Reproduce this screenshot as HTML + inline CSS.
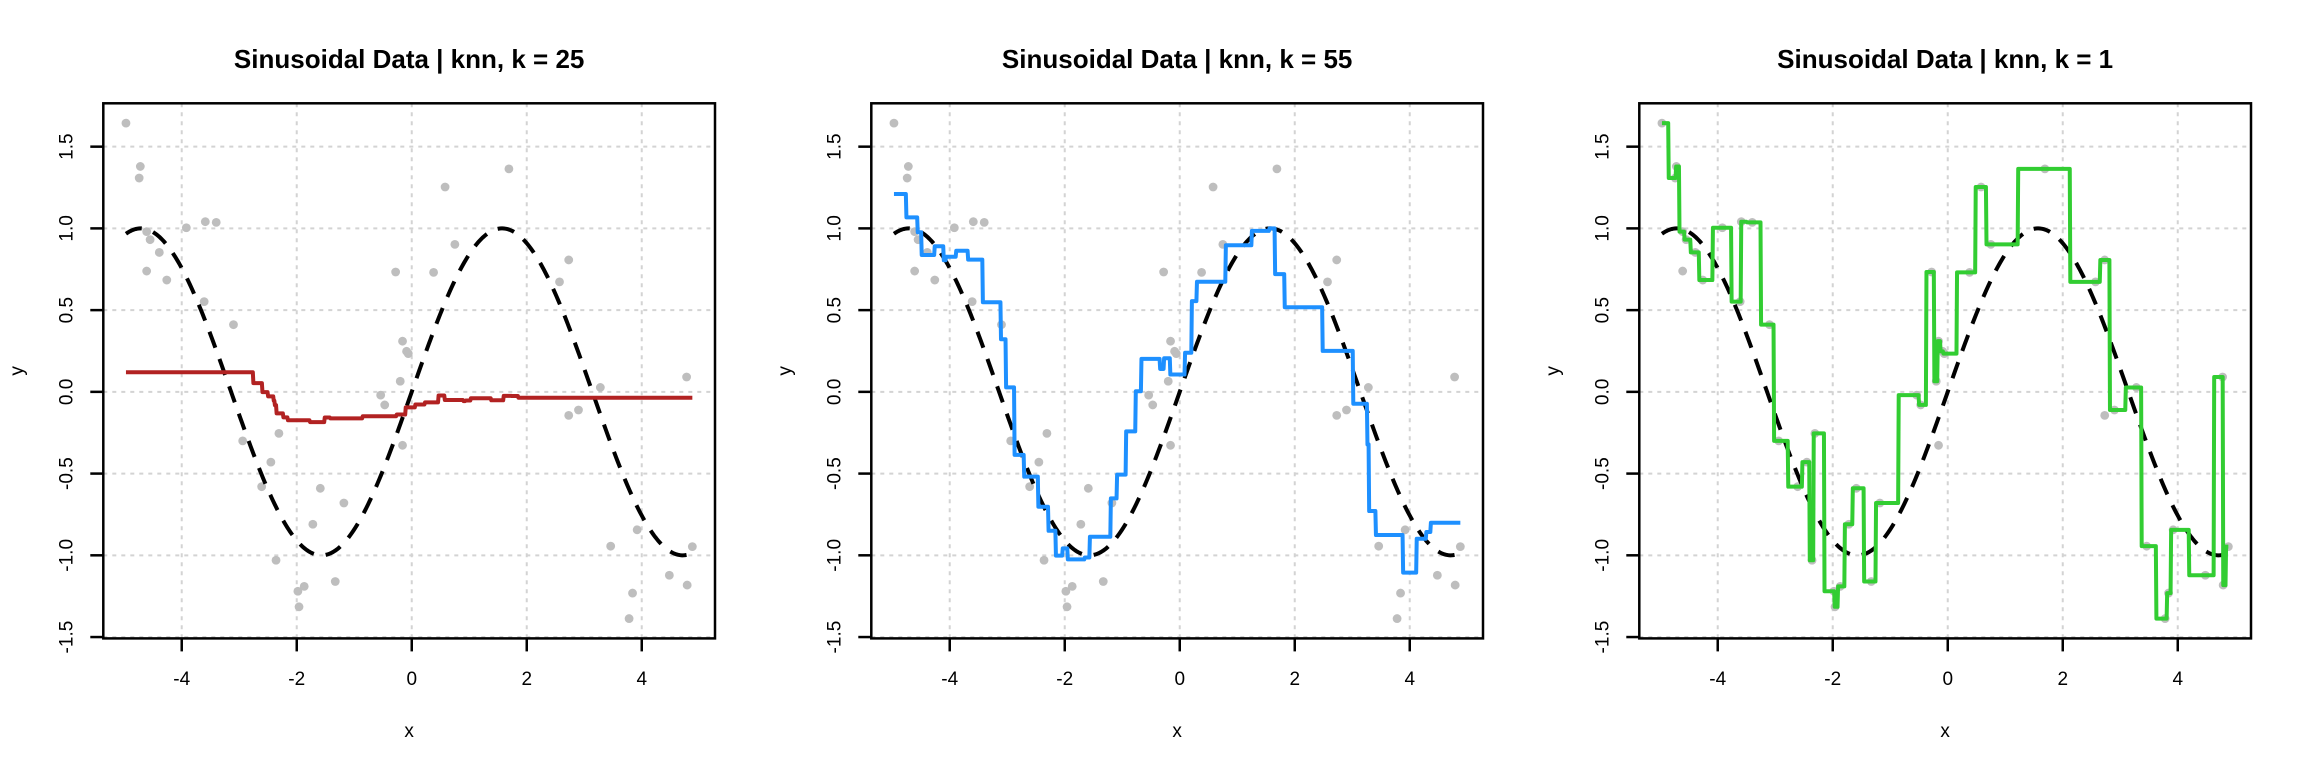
<!DOCTYPE html>
<html><head><meta charset="utf-8"><style>
html,body{margin:0;padding:0;background:#fff;}
svg{display:block;font-family:"Liberation Sans",Arial,sans-serif;}
</style></head><body>
<svg id="chart" width="2304" height="768" viewBox="0 0 2304 768" xmlns="http://www.w3.org/2000/svg"></svg>
<script>
// ---- data ----
const xs = [-4.97,-4.74,-4.72,-4.61,-4.61,-4.55,-4.39,-4.26,-3.92,-3.61,-3.59,-3.40,-3.10,-2.94,-2.61,-2.45,-2.36,-2.31,-1.98,-1.96,-1.87,-1.72,-1.59,-1.33,-1.18,-0.54,-0.47,-0.28,-0.20,-0.16,-0.16,-0.09,-0.06,0.38,0.58,0.75,1.69,2.57,2.73,2.73,2.90,3.28,3.46,3.78,3.84,3.92,4.48,4.78,4.79,4.88];
const ys = [1.644,1.308,1.379,0.980,0.739,0.931,0.853,0.684,1.004,0.552,1.041,1.037,0.411,-0.30,-0.58,-0.43,-1.03,-0.254,-1.22,-1.315,-1.19,-0.81,-0.59,-1.16,-0.68,-0.02,-0.08,0.733,0.065,0.31,-0.327,0.248,0.234,0.731,1.253,0.902,1.364,0.673,0.807,-0.144,-0.111,0.027,-0.944,-1.387,-1.231,-0.844,-1.122,0.091,-1.182,-0.947];
const titleK = [25, 55, 1];
const fitK = [25, 5, 1];
const lineColors = ["#B22222", "#1E90FF", "#32CD32"];
const xTicks = [-4, -2, 0, 2, 4];
const yTicks = [-1.5, -1.0, -0.5, 0.0, 0.5, 1.0, 1.5];
const yTickLabels = ["-1.5", "-1.0", "-0.5", "0.0", "0.5", "1.0", "1.5"];

const NS = "http://www.w3.org/2000/svg";
const svg = document.getElementById("chart");
function mk(tag, attrs, parent) {
  const e = document.createElementNS(NS, tag);
  for (const k in attrs) e.setAttribute(k, attrs[k]);
  (parent || svg).appendChild(e);
  return e;
}
const xMinD = Math.min(...xs), xMaxD = Math.max(...xs);
const yMinD = Math.min(...ys), yMaxD = Math.max(...ys);
const xPad = (xMaxD - xMinD) * 0.04, yPad = (yMaxD - yMinD) * 0.04;
const usrX0 = xMinD - xPad, usrX1 = xMaxD + xPad;
const usrY0 = yMinD - yPad, usrY1 = yMaxD + yPad;
const BL = 103.3, BW = 611.7, BT = 103.3, BB = 638.4;

function knn(x0, k) {
  const d = xs.map((x, i) => [Math.abs(x - x0), i]).sort((a, b) => a[0] - b[0]);
  let s = 0;
  for (let j = 0; j < k && j < d.length; j++) s += ys[d[j][1]];
  return s / Math.min(k, d.length);
}

for (let p = 0; p < 3; p++) {
  const ox = 768 * p;
  const px = x => ox + BL + (x - usrX0) / (usrX1 - usrX0) * BW;
  const py = y => BB - (y - usrY0) / (usrY1 - usrY0) * (BB - BT);
  const g = mk("g", {});
  
  

  const t = mk("text", {x: ox + BL + BW / 2, y: 68, "text-anchor": "middle", "font-size": 26, "font-weight": "bold", fill: "#000"}, g);
  t.textContent = "Sinusoidal Data | knn, k = " + titleK[p];
  
  

  xTicks.forEach(v => {
    const l = mk("line", {x1: px(v), x2: px(v), y1: BT, y2: BB, stroke: "#d3d3d3", "stroke-width": 2, "stroke-dasharray": "4 5"}, g);
    
    
  });
  yTicks.forEach(v => {
    const l = mk("line", {x1: ox + BL, x2: ox + BL + BW, y1: py(v), y2: py(v), stroke: "#d3d3d3", "stroke-width": 2, "stroke-dasharray": "4 5"}, g);
    
    
  });

  xs.forEach((x, i) => {
    const c = mk("circle", {cx: px(x), cy: py(ys[i]), r: 4.4, fill: "#bebebe"}, g);
    
    
  });

  let d = "";
  for (let i = 0; i <= 400; i++) {
    const x = xMinD + (xMaxD - xMinD) * i / 400;
    d += (i ? "L" : "M") + px(x).toFixed(2) + "," + py(Math.sin(x)).toFixed(2);
  }
  const sp = mk("path", {d: d, fill: "none", stroke: "#000", "stroke-width": 4, "stroke-dasharray": "17 12"}, g);
  
  

  let fd = "";
  const N = 1000;
  for (let i = 0; i <= N; i++) {
    const x = xMinD + (xMaxD - xMinD) * i / N;
    fd += (i ? "L" : "M") + px(x).toFixed(2) + "," + py(knn(x, fitK[p])).toFixed(2);
  }
  const fp = mk("path", {d: fd, fill: "none", stroke: lineColors[p], "stroke-width": 4, "stroke-linejoin": "round"}, g);
  
  

  const b = mk("rect", {x: ox + BL, y: BT, width: BW, height: BB - BT, fill: "none", stroke: "#000", "stroke-width": 2.5}, g);
  
  

  xTicks.forEach(v => {
    const tk = mk("line", {x1: px(v), x2: px(v), y1: BB, y2: BB + 13, stroke: "#000", "stroke-width": 2.5}, g);
    
    
    const tl = mk("text", {x: px(v), y: 685, "text-anchor": "middle", "font-size": 19, fill: "#000"}, g);
    tl.textContent = String(v);
    
    
  });
  yTicks.forEach((v, i) => {
    const tk = mk("line", {x1: ox + BL - 13, x2: ox + BL, y1: py(v), y2: py(v), stroke: "#000", "stroke-width": 2.5}, g);
    
    
    const tx = ox + 72.7, ty = py(v);
    const tl = mk("text", {x: tx, y: ty, "text-anchor": "middle", "font-size": 19, fill: "#000", transform: "rotate(-90 " + tx + " " + ty + ")"}, g);
    tl.textContent = yTickLabels[i];
    
    
  });
  const xl = mk("text", {x: ox + BL + BW / 2, y: 737, "text-anchor": "middle", "font-size": 19, fill: "#000"}, g);
  xl.textContent = "x";
  
  
  const yx = ox + 23, yy = (BT + BB) / 2;
  const yl = mk("text", {x: yx, y: yy, "text-anchor": "middle", "font-size": 19, fill: "#000", transform: "rotate(-90 " + yx + " " + yy + ")"}, g);
  yl.textContent = "y";
  
  
}
</script>
</body></html>
